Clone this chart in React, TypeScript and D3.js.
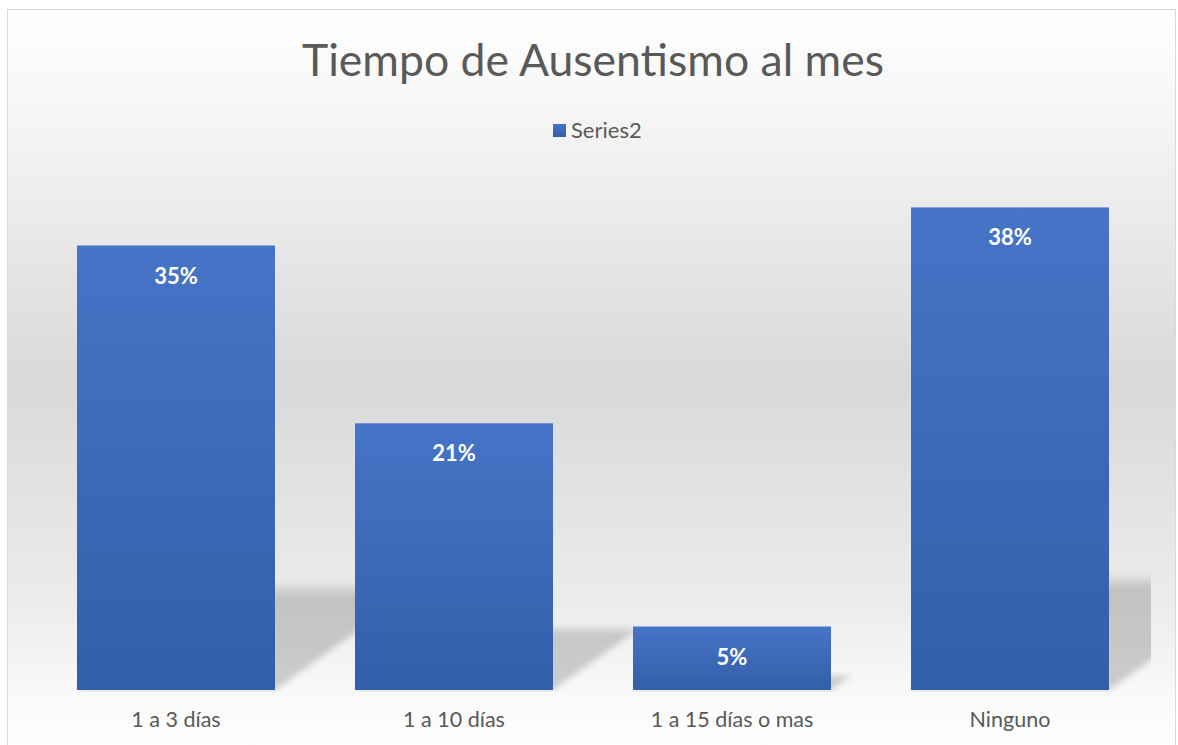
import React from "react";
import * as d3 from "d3";

const categories = ["1 a 3 días", "1 a 10 días", "1 a 15 días o mas", "Ninguno"];
const values = [0.35, 0.21, 0.05, 0.38];
const seriesName = "Series2";
const title = "Tiempo de Ausentismo al mes";
const yDomain = [0, 0.4];

const W = 1178;
const H = 745;
const FONT = "Lato, Carlito, 'Open Sans', sans-serif";
const TEXT = "#595959";

export default function App() {
  const plot = { left: 37, right: 1149, top: 182, bottom: 690 };
  const x = d3
    .scaleBand<string>()
    .domain(categories)
    .range([plot.left, plot.right])
    .paddingInner(0.2878)
    .paddingOuter(0.1439);
  const y = d3.scaleLinear().domain(yDomain).range([plot.bottom, plot.top]);
  const fmt = d3.format(".0%");

  const shadowRatio = 0.24;
  const shear = 1.4;

  return (
    <svg
      width={W}
      height={H}
      style={{ position: "absolute", left: 0, top: 0 }}
      xmlns="http://www.w3.org/2000/svg"
    >
      <defs>
        <linearGradient id="bg" x1="0" y1="0" x2="0" y2="1">
          <stop offset="0" stopColor="#ffffff" />
          <stop offset="0.12" stopColor="#f7f7f7" />
          <stop offset="0.5" stopColor="#d9d9d9" />
          <stop offset="0.8" stopColor="#ececec" />
          <stop offset="0.93" stopColor="#fafafa" />
          <stop offset="1" stopColor="#ffffff" />
        </linearGradient>
        <linearGradient id="barGrad" x1="0" y1="0" x2="0" y2="1">
          <stop offset="0" stopColor="#4674c7" />
          <stop offset="1" stopColor="#335ea8" />
        </linearGradient>
        <linearGradient id="shadowGrad" x1="0" y1="0" x2="0" y2="1">
          <stop offset="0" stopColor="#000" stopOpacity="0.02" />
          <stop offset="0.12" stopColor="#000" stopOpacity="0.17" />
          <stop offset="1" stopColor="#000" stopOpacity="0.18" />
        </linearGradient>
        <filter id="blur" x="-20%" y="-20%" width="140%" height="140%">
          <feGaussianBlur stdDeviation="3" />
        </filter>
        <clipPath id="plotClip">
          <rect x={plot.left} y={0} width={plot.right - plot.left + 2} height={plot.bottom + 2} />
        </clipPath>
      </defs>

      <rect x={7.5} y={9.5} width={1168} height={745} fill="url(#bg)" stroke="#d9d9d9" strokeWidth={1} />

      <text
        x={593}
        y={76}
        textAnchor="middle"
        fontFamily={FONT}
        fontSize={44}
        fill={TEXT}
        textLength={582}
        lengthAdjust="spacingAndGlyphs"
      >
        {title}
      </text>

      <g>
        <rect x={553} y={124} width={13} height={13} fill="url(#barGrad)" />
        <text x={571} y={138} fontFamily={FONT} fontSize={22} fill={TEXT}>
          {seriesName}
        </text>
      </g>

      <g clipPath="url(#plotClip)">
        {categories.map((c, i) => {
          const x0 = x(c)!;
          const x1 = x0 + x.bandwidth();
          const top = y(values[i]);
          const h = plot.bottom - top;
          const hs = h * shadowRatio;
          const off = hs * shear;
          const pts = [
            [x0, plot.bottom],
            [x1, plot.bottom],
            [x1 + off, plot.bottom - hs],
            [x0 + off, plot.bottom - hs],
          ];
          return (
            <polygon
              key={"s" + c}
              points={pts.map((p) => p.join(",")).join(" ")}
              fill="url(#shadowGrad)"
              filter="url(#blur)"
            />
          );
        })}
      </g>

      <g>
        {categories.map((c, i) => {
          const x0 = x(c)!;
          const top = y(values[i]);
          return (
            <rect
              key={"b" + c}
              x={x0}
              y={top}
              width={x.bandwidth()}
              height={plot.bottom - top}
              fill="url(#barGrad)"
            />
          );
        })}
      </g>

      <g>
        {categories.map((c, i) => (
          <text
            key={"l" + c}
            x={x(c)! + x.bandwidth() / 2}
            y={y(values[i]) + 38}
            textAnchor="middle"
            fontFamily={FONT}
            fontWeight="bold"
            fontSize={22}
            fill="#ffffff"
          >
            {fmt(values[i])}
          </text>
        ))}
      </g>

      <g>
        {categories.map((c) => (
          <text
            key={"c" + c}
            x={x(c)! + x.bandwidth() / 2}
            y={727}
            textAnchor="middle"
            fontFamily={FONT}
            fontSize={21.5}
            fill={TEXT}
          >
            {c}
          </text>
        ))}
      </g>
    </svg>
  );
}
